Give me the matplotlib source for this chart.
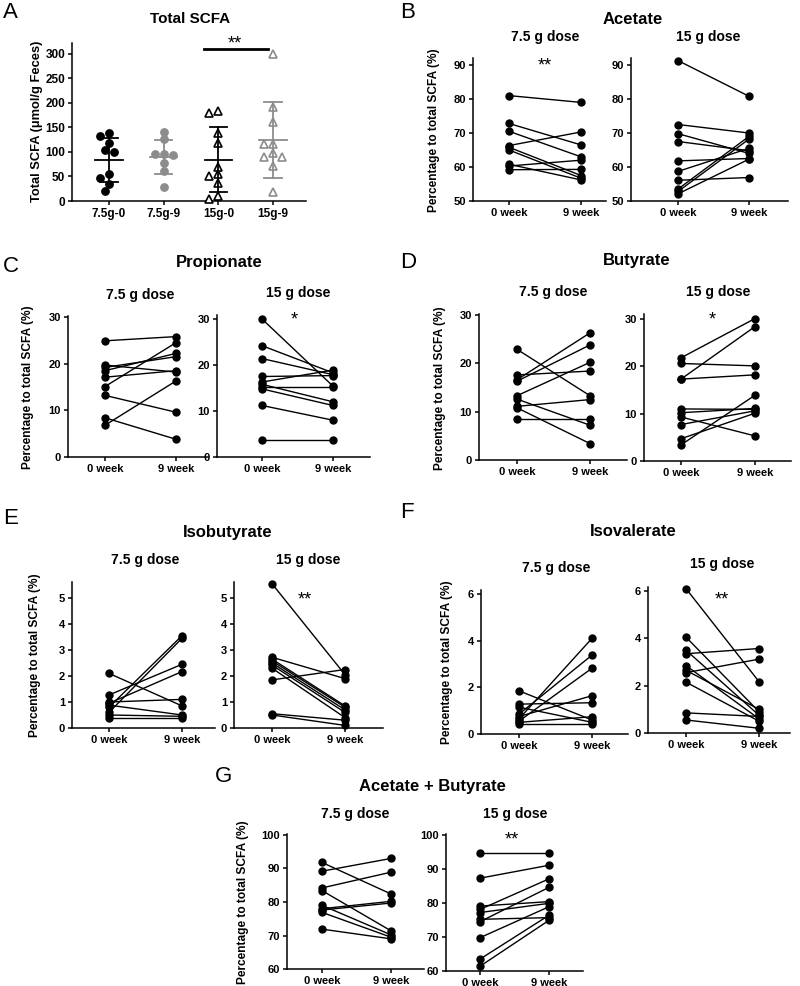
import numpy as np
import matplotlib
matplotlib.use('Agg')
import matplotlib.pyplot as plt

plt.rcParams['font.family'] = ['Liberation Sans', 'DejaVu Sans']
plt.rcParams['font.weight'] = 'bold'

W, H = 800, 986

# ---- panel A: total SCFA (umol/g feces) ----
a_groups = ['7.5g-0', '7.5g-9', '15g-0', '15g-9']
a_75_0 = [138, 133, 118, 101, 104, 55, 46, 35, 21]
a_75_9 = [141, 126, 96, 96, 94, 78, 61, 29]
a_15_0 = [184, 179, 138, 118, 70, 55, 50, 36, 10, 5]
a_15_9 = [300, 192, 162, 116, 116, 97, 89, 89, 72, 18]

weeks = ['0 week', '9 week']

# ---- paired panels: % of total SCFA, week 0 / week 9 ----
acetate_75_w0 = [81.0, 72.8, 70.5, 66.3, 65.8, 65.0, 60.8, 60.3, 59.2]
acetate_75_w9 = [79.0, 66.5, 63.0, 70.3, 57.5, 56.7, 56.2, 62.0, 59.3]
acetate_15_w0 = [91.3, 72.5, 69.8, 67.5, 61.8, 58.7, 56.1, 53.5, 52.8, 52.1]
acetate_15_w9 = [80.8, 70.0, 64.0, 64.8, 62.5, 65.5, 56.9, 69.0, 68.2, 62.3]

propionate_75_w0 = [24.9, 19.7, 19.2, 18.5, 17.1, 15.1, 13.2, 8.4, 6.8]
propionate_75_w9 = [25.8, 18.2, 21.5, 22.2, 18.5, 24.5, 9.6, 3.8, 16.3]
propionate_15_w0 = [30.0, 24.2, 21.4, 17.5, 16.3, 15.8, 15.2, 14.8, 11.2, 3.8]
propionate_15_w9 = [15.4, 18.3, 17.9, 17.7, 18.9, 12.0, 15.2, 11.2, 8.0, 3.8]

butyrate_75_w0 = [22.9, 17.6, 16.6, 16.3, 13.3, 12.6, 11.1, 10.8, 8.5]
butyrate_75_w9 = [13.3, 18.4, 26.3, 23.8, 20.2, 7.2, 12.5, 3.4, 8.5]
butyrate_15_w0 = [21.8, 17.3, 20.6, 17.3, 11.0, 10.2, 9.3, 7.7, 4.7, 3.4]
butyrate_15_w9 = [30.1, 28.4, 20.1, 18.2, 10.9, 11.1, 5.3, 10.6, 10.1, 13.9]

isobutyrate_75_w0 = [2.1, 1.27, 1.0, 0.95, 0.88, 0.8, 0.6, 0.5, 0.4]
isobutyrate_75_w9 = [0.85, 2.45, 1.1, 2.17, 0.5, 3.55, 3.45, 0.45, 0.4]
isobutyrate_15_w0 = [5.55, 1.85, 2.72, 2.65, 2.58, 2.5, 2.42, 2.3, 0.55, 0.5]
isobutyrate_15_w9 = [2.05, 2.25, 1.9, 0.85, 0.8, 0.7, 0.6, 0.4, 0.3, 0.1]

isovalerate_75_w0 = [1.85, 1.28, 1.15, 0.85, 0.75, 0.65, 0.55, 0.5, 0.45]
isovalerate_75_w9 = [0.6, 1.34, 0.5, 3.38, 1.64, 4.1, 2.82, 0.74, 0.45]
isovalerate_15_w0 = [6.1, 4.05, 3.5, 3.35, 2.85, 2.65, 2.55, 2.15, 0.85, 0.55]
isovalerate_15_w9 = [2.17, 0.9, 0.75, 3.57, 0.6, 1.0, 3.12, 0.5, 0.7, 0.2]

acbu_75_w0 = [91.8, 89.2, 84.2, 83.4, 79.0, 78.0, 77.6, 76.9, 71.9]
acbu_75_w9 = [82.4, 93.0, 88.9, 71.4, 70.2, 80.2, 79.7, 69.5, 69.0]
acbu_15_w0 = [94.7, 87.3, 79.1, 78.1, 77.2, 75.2, 74.5, 69.8, 63.5, 61.4]
acbu_15_w9 = [94.7, 91.1, 80.4, 87.1, 79.9, 75.7, 84.6, 78.9, 76.4, 74.9]

fig = plt.figure(figsize=(W / 100, H / 100), dpi=100)


def add_ax(l, r, x0, x1, t, b, v0, p0, v1, p1):
    # axes from pixel box, limits calibrated from two known pixel positions
    ax = fig.add_axes([l / W, 1 - b / H, (r - l) / W, (b - t) / H])
    sx = x1 - x0
    ax.set_xlim((l - x0) / sx, (r - x0) / sx)
    sy = (p0 - p1) / (v1 - v0)
    ax.set_ylim(v0 - (b - p0) / sy, v0 + (p0 - t) / sy)
    for s in ['top', 'right']:
        ax.spines[s].set_visible(False)
    for s in ['left', 'bottom']:
        ax.spines[s].set_linewidth(1.1)
    ax.tick_params(width=1.1, length=3, pad=2, labelsize=8)
    return ax


def txt(x, y, s, size, weight='bold', **kw):
    fig.text(x / W, 1 - y / H, s, fontsize=size, weight=weight,
             ha=kw.pop('ha', 'center'), va=kw.pop('va', 'center'), **kw)


def paired(box, w0, w9, yticks):
    ax = add_ax(*box)
    for a, b in zip(w0, w9):
        ax.plot([0, 1], [a, b], color='black', lw=1.0, marker='o', ms=5,
                mfc='black', mec='black', clip_on=False, zorder=3)
    ax.set_xticks([0, 1])
    ax.set_xticklabels(weeks)
    ax.set_yticks(yticks)
    return ax


def swarm(vals, pxx, pxy, step=4.5, dist=7.0):
    # simple beeswarm offsets (in x data units)
    placed = []
    offs = []
    for v in vals:
        for k in [0, -1, 1, -2, 2, -3, 3, -4, 4]:
            x = k * step
            ok = all((x - px) ** 2 + ((v - pv) * pxy) ** 2 >= dist ** 2 for px, pv in placed)
            if ok:
                break
        placed.append((x, v))
        offs.append(x / pxx)
    return offs


# ---- Panel A ----
axA = add_ax(72, 306, 109, 163.7, 43, 201, 0, 201, 300, 54)
axA.tick_params(labelsize=8.5)
a_sets = [a_75_0, a_75_9, a_15_0, a_15_9]
a_cols = ['black', '#8c8c8c', 'black', '#8c8c8c']
a_mark = ['o', 'o', '^', '^']
for i, vals in enumerate(a_sets):
    v = sorted(vals, reverse=True)
    offs = swarm(v, 54.7, 0.49)
    c = a_cols[i]
    if a_mark[i] == 'o':
        axA.plot(np.array(offs) + i, v, 'o', color=c, ms=5.3, zorder=3, clip_on=False)
    else:
        axA.plot(np.array(offs) + i, v, '^', mfc='white', mec=c, mew=1.2, ms=5.5, zorder=3, clip_on=False)
    m = np.mean(vals)
    sd = np.std(vals, ddof=1)
    axA.plot([i - 0.25, i + 0.25], [m, m], color=c, lw=1.3, zorder=4)
    axA.plot([i, i], [m - sd, m + sd], color=c, lw=1.3, zorder=4)
    axA.plot([i - 0.16, i + 0.16], [m + sd, m + sd], color=c, lw=1.3, zorder=4)
    axA.plot([i - 0.16, i + 0.16], [m - sd, m - sd], color=c, lw=1.3, zorder=4)
axA.set_xticks(range(4))
axA.set_xticklabels(a_groups)
axA.set_yticks(range(0, 301, 50))
axA.plot([1.73, 2.91], [310, 310], color='black', lw=2, clip_on=False)

# ---- paired panels ----
paired((473, 606, 509, 581, 58, 201, 50, 201, 90, 65), acetate_75_w0, acetate_75_w9, [50, 60, 70, 80, 90])
paired((631, 788, 678, 749, 58, 201, 50, 201, 90, 65), acetate_15_w0, acetate_15_w9, [50, 60, 70, 80, 90])
paired((68, 208, 105, 176, 316, 457, 0, 457, 30, 317), propionate_75_w0, propionate_75_w9, [0, 10, 20, 30])
paired((217, 370, 262, 333, 315, 457, 0, 457, 30, 319), propionate_15_w0, propionate_15_w9, [0, 10, 20, 30])
paired((479, 627, 517, 590, 314, 460, 0, 460, 30, 315), butyrate_75_w0, butyrate_75_w9, [0, 10, 20, 30])
paired((644, 791, 681, 755, 314, 461, 0, 461, 30, 319), butyrate_15_w0, butyrate_15_w9, [0, 10, 20, 30])
paired((72, 215, 109, 182, 582, 728, 0, 728, 5, 598), isobutyrate_75_w0, isobutyrate_75_w9, range(6))
paired((234, 383, 272, 345, 582, 728, 0, 728, 5, 598), isobutyrate_15_w0, isobutyrate_15_w9, range(6))
paired((481, 628, 519, 592, 590, 734, 0, 734, 6, 594), isovalerate_75_w0, isovalerate_75_w9, [0, 2, 4, 6])
paired((648, 790, 686, 759, 587, 733, 0, 733, 6, 591), isovalerate_15_w0, isovalerate_15_w9, [0, 2, 4, 6])
paired((287, 424, 322, 391, 834, 969, 60, 969, 100, 835), acbu_75_w0, acbu_75_w9, [60, 70, 80, 90, 100])
paired((446, 583, 480, 549, 834, 971, 60, 971, 100, 835), acbu_15_w0, acbu_15_w9, [60, 70, 80, 90, 100])

# ---- panel letters ----
for s, x, y in [('A', 3, 13), ('B', 400, 12), ('C', 3, 266), ('D', 400, 263),
                ('E', 3, 518), ('F', 400, 513), ('G', 215, 777)]:
    txt(x, y, s, 16, weight='normal', ha='left')

# ---- titles ----
for s, x, y in [('Total SCFA', 190, 19), ('Acetate', 633, 19), ('Propionate', 219, 262),
                ('Butyrate', 637, 261), ('Isobutyrate', 228, 532), ('Isovalerate', 633, 532),
                ('Acetate + Butyrate', 432, 787)]:
    txt(x, y, s, 11 if s == 'Total SCFA' else 12)

# ---- dose subtitles ----
for s, x, y in [('7.5 g dose', 545, 37), ('15 g dose', 708, 37),
                ('7.5 g dose', 140, 295), ('15 g dose', 298, 293),
                ('7.5 g dose', 553, 292), ('15 g dose', 718, 292),
                ('7.5 g dose', 145, 560), ('15 g dose', 308, 560),
                ('7.5 g dose', 556, 568), ('15 g dose', 722, 564),
                ('7.5 g dose', 355, 814), ('15 g dose', 515, 814)]:
    txt(x, y, s, 10)

# ---- significance ----
for s, x, y in [('**', 235, 44), ('**', 545, 66), ('*', 294, 320), ('*', 712, 320),
                ('**', 305, 600), ('**', 722, 600), ('**', 512, 840)]:
    txt(x, y, s, 13, weight='normal')

# ---- y labels ----
txt(37, 121, 'Total SCFA (\u03bcmol/g Feces)', 9.3, rotation=90)
for x, y in [(434, 130), (28, 387), (440, 388), (35, 655), (447, 662), (243, 902)]:
    txt(x, y, 'Percentage to total SCFA (%)', 8.6, rotation=90)

fig.savefig('out.png', dpi=100)
